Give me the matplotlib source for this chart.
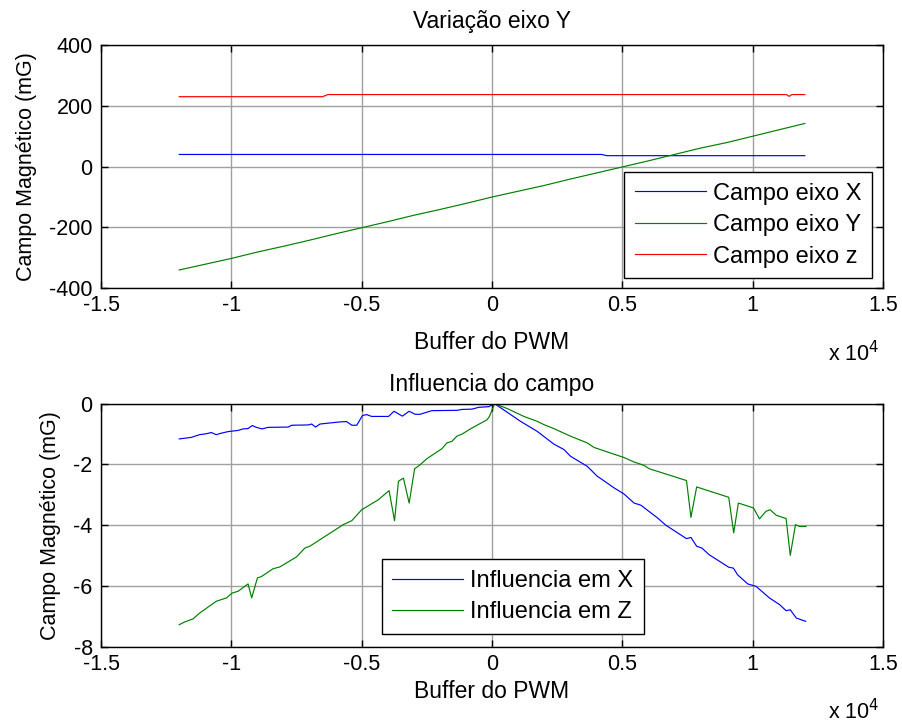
#!/usr/bin/env python3
#
# Campo magnetico vs buffer do PWM
#

import matplotlib
matplotlib.use('Agg')
import matplotlib.pyplot as plt
from matplotlib.ticker import FuncFormatter

plt.rcParams['font.family'] = ['Liberation Sans', 'DejaVu Sans']
plt.rcParams['axes.unicode_minus'] = False

# ---- dados: grafico de cima (Variacao eixo Y) ----
x_campo_x = [-12000, 4200, 4400, 12000]
campo_x = [40, 40, 36, 36]

x_campo_y = [-12000, -11000, -10000, -9000, -8000, -7000, -6000, -5000, -4000,
             -3000, -2000, -1000, 0, 1000, 2000, 3000, 4000, 5000, 6000, 7000,
             8000, 9000, 10000, 11000, 12000]
campo_y = [-340, -321, -302, -281, -262, -242, -221, -201, -181, -160, -141,
           -121, -100, -81, -62, -41, -21, -1, 19, 40, 61, 79, 100, 121, 142]

x_campo_z = [-12000, -6500, -6300, 11300, 11400, 11500, 12000]
campo_z = [230, 230, 237, 237, 231, 237, 237]

# ---- dados: grafico de baixo (Influencia do campo) ----
x_inf_x = [-12000, -11540, -11220, -10960, -10770, -10580, -10380, -10130, -9740,
           -9550, -9360, -9200, -9040, -8820, -8590, -7820, -7690, -7050, -6920,
           -6770, -6600, -5830, -5580, -5380, -5190, -4970, -4810, -4620, -3970,
           -3760, -3440, -3180, -2950, -2760, -2310, -1350, -1150, -770, -510,
           -130, 100, 1090, 1730, 2370, 2760, 3010, 3650, 4040, 4230, 4680, 5060,
           5450, 5710, 6350, 6670, 7460, 7630, 7850, 8050, 8330, 9080, 9260, 9420,
           9810, 10130, 10640, 11030, 11280, 11440, 11670, 12030]
inf_x = [-1.16, -1.11, -1.02, -0.99, -0.95, -1.02, -0.97, -0.92, -0.88,
         -0.83, -0.82, -0.72, -0.78, -0.83, -0.78, -0.77, -0.71, -0.70, -0.67,
         -0.77, -0.67, -0.60, -0.59, -0.71, -0.71, -0.39, -0.36, -0.42, -0.42,
         -0.25, -0.41, -0.25, -0.35, -0.35, -0.23, -0.22, -0.19, -0.18, -0.12,
         -0.10, 0.0, -0.58, -0.91, -1.33, -1.51, -1.73, -2.06, -2.39, -2.50, -2.77, -2.97,
         -3.27, -3.34, -3.76, -4.00, -4.44, -4.40, -4.69, -4.75, -4.97, -5.38, -5.41, -5.63,
         -5.93, -6.01, -6.39, -6.61, -6.81, -6.78, -7.05, -7.16]

x_inf_z = [-12000, -11790, -11470, -11220, -10580, -10190, -9970, -9740, -9360,
           -9220, -9000, -8850, -8400, -8140, -7500, -7180, -6990, -5710, -5380,
           -5000, -4360, -3950, -3740, -3590, -3400, -3180, -2970, -2800, -2500,
           -1920, -1730, -1540, -1350, -1150, -770, -190, -100, 100, 580, 1220,
           1730, 1990, 2370, 3010, 3650, 3910, 4810, 5060, 5450, 5830, 6030, 7460,
           7630, 7850, 9080, 9270, 9450, 10030, 10260, 10510, 10670, 10900, 11280,
           11440, 11640, 11800, 12050]
inf_z = [-7.27, -7.18, -7.08, -6.89, -6.50, -6.39, -6.23, -6.17, -5.93,
         -6.39, -5.73, -5.69, -5.43, -5.37, -5.04, -4.75, -4.69, -3.98, -3.85,
         -3.49, -3.16, -2.86, -3.85, -2.55, -2.45, -3.27, -2.14, -2.04, -1.81,
         -1.48, -1.29, -1.24, -1.07, -1.00, -0.80, -0.53, -0.42, 0.0, -0.16, -0.42,
         -0.58, -0.69, -0.82, -1.07, -1.29, -1.44, -1.70, -1.77, -1.92, -2.03, -2.14, -2.53,
         -3.74, -2.74, -3.08, -4.25, -3.27, -3.43, -3.79, -3.54, -3.49, -3.67, -3.78,
         -4.99, -3.98, -4.04, -4.04]

x_ticks = [-15000, -10000, -5000, 0, 5000, 10000, 15000]

FS = 15.5      # ticks / ylabel
FS_L = 16.5    # titulo, xlabel
FS_LEG = 17    # legenda
LW = 0.85


def estilo(ax, yticks, xpad, ypad):
    ax.set_xlim(-15000, 15000)
    ax.set_xticks(x_ticks)
    ax.xaxis.set_major_formatter(FuncFormatter(lambda v, p: '%g' % (v / 1e4)))
    ax.set_yticks(yticks)
    ax.set_ylim(yticks[0], yticks[-1])
    ax.grid(True, color='#a0a0a0', linewidth=1.0)
    ax.set_axisbelow(True)
    ax.tick_params(direction='in', top=True, right=True, length=5,
                   width=1, labelsize=FS)
    ax.tick_params(axis='y', pad=6)
    ax.tick_params(axis='x', pad=5)
    for s in ax.spines.values():
        s.set_linewidth(1.0)
    ax.set_xlabel('Buffer do PWM', fontsize=FS_L, labelpad=xpad)
    ax.set_ylabel('Campo Magnético (mG)', fontsize=FS, labelpad=ypad)
    ax.text(0.93, -0.267, r'x 10$^{4}$', transform=ax.transAxes,
            fontsize=FS, ha='left', va='center')


def legenda(ax, loc, anchor):
    leg = ax.legend(loc=loc, bbox_to_anchor=anchor, borderaxespad=0,
                    fontsize=FS_LEG, fancybox=False, edgecolor='black',
                    framealpha=1, handlelength=3.0, handletextpad=0.3,
                    labelspacing=0.4, borderpad=0.45)
    leg.get_frame().set_linewidth(1.0)
    return leg


fig = plt.figure(figsize=(9.02, 7.26), dpi=100)

# Grafico de cima
ax1 = fig.add_axes([0.112, 0.603, 0.867, 0.335])
ax1.plot(x_campo_x, campo_x, color='#0000ff', lw=LW, label='Campo eixo X')
ax1.plot(x_campo_y, campo_y, color='#008000', lw=LW, label='Campo eixo Y')
ax1.plot(x_campo_z, campo_z, color='#ff0000', lw=LW, label='Campo eixo z')
estilo(ax1, [-400, -200, 0, 200, 400], xpad=11, ypad=9)
ax1.set_title('Variação eixo Y', fontsize=FS_L, pad=12)
legenda(ax1, 'lower right', (0.986, 0.041))

# Grafico de baixo
ax2 = fig.add_axes([0.112, 0.109, 0.867, 0.335])
ax2.plot(x_inf_x, inf_x, color='#0000ff', lw=LW, label='Influencia em X')
ax2.plot(x_inf_z, inf_z, color='#008000', lw=LW, label='Influencia em Z')
estilo(ax2, [-8, -6, -4, -2, 0], xpad=4, ypad=9)
ax2.set_title('Influencia do campo', fontsize=FS_L, pad=9)
legenda(ax2, 'lower left', (0.359, 0.053))

fig.savefig('out.png', dpi=100)
